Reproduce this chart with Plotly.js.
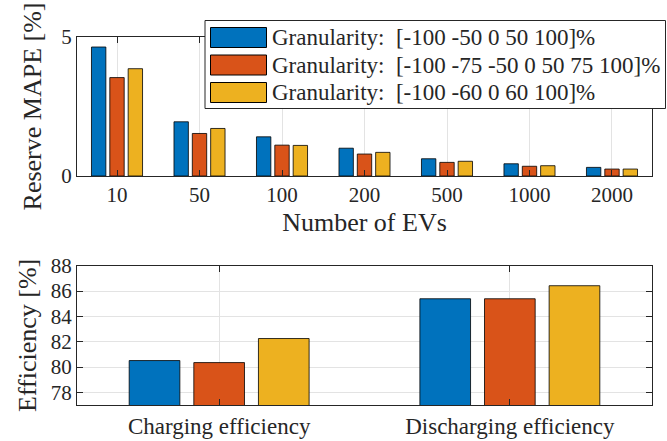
<!DOCTYPE html>
<html>
<head>
<meta charset="utf-8">
<script src="https://cdn.plot.ly/plotly-3.0.1.min.js"></script>
<style>html,body{margin:0;padding:0;background:#fff;}#chart{width:667px;height:441px;}</style>
</head>
<body>
<div id="chart"></div>
<script>
// ---- data ----
const evCounts = ["10", "50", "100", "200", "500", "1000", "2000"];
const seriesNames = [
  "Granularity:  [-100 -50 0 50 100]%",
  "Granularity:  [-100 -75 -50 0 50 75 100]%",
  "Granularity:  [-100 -60 0 60 100]%"
];
const mapeG1 = [4.64, 1.95, 1.41, 1.00, 0.62, 0.44, 0.31];
const mapeG2 = [3.54, 1.53, 1.11, 0.79, 0.49, 0.35, 0.25];
const mapeG3 = [3.86, 1.71, 1.10, 0.85, 0.53, 0.37, 0.25];
const effCategories = ["Charging efficiency", "Discharging efficiency"];
const effG1 = [80.51, 85.39];
const effG2 = [80.35, 85.39];
const effG3 = [82.25, 86.42];
const yTicksTop = [0, 5];
const yTicksBottom = [78, 80, 82, 84, 86, 88];

// ---- styling ----
const colors = ["#0072BD", "#D95319", "#EDB120"];
const FONT = "Liberation Serif, Times New Roman, serif";
const TXT = "#262626";

const W = 667, H = 441;
const L = 77, R = 15, T = 37, B = 36;
const plotW = W - L - R, plotH = H - T - B;
const px2x = p => (p - L) / plotW;
const py2y = p => (H - B - p) / plotH;

const topSeries = [mapeG1, mapeG2, mapeG3];
const botSeries = [effG1, effG2, effG3];

const traces = [];
topSeries.forEach((vals, i) => {
  traces.push({
    type: "bar", x: evCounts, y: vals, name: seriesNames[i],
    xaxis: "x", yaxis: "y",
    marker: {color: colors[i], line: {color: "#000", width: 0.8}},
    showlegend: false, hoverinfo: "x+y"
  });
});
botSeries.forEach((vals, i) => {
  traces.push({
    type: "bar", x: effCategories, y: vals, name: seriesNames[i],
    xaxis: "x2", yaxis: "y2",
    marker: {color: colors[i], line: {color: "#000", width: 0.8}},
    showlegend: false, hoverinfo: "x+y"
  });
});

const axisCommon = {
  showline: true, linecolor: TXT, linewidth: 1, mirror: "ticks",
  ticks: "inside", ticklen: 6, tickcolor: TXT, tickwidth: 1,
  tickfont: {family: FONT, size: 21, color: TXT},
  zeroline: false, layer: "above traces",
  gridcolor: "#e3e3e3", gridwidth: 1
};
const titleFont = {family: FONT, size: 26, color: TXT};

// custom legend (large swatches, like the reference)
const shapes = [];
const annotations = [];
shapes.push({
  type: "rect", xref: "paper", yref: "paper",
  x0: px2x(205), x1: px2x(665.5), y0: py2y(108.5), y1: py2y(20.5),
  line: {color: TXT, width: 1}, fillcolor: "#fff", layer: "above"
});
const rowTops = [27.5, 55, 82.5];
rowTops.forEach((t, i) => {
  shapes.push({
    type: "rect", xref: "paper", yref: "paper",
    x0: px2x(210.5), x1: px2x(266.5), y0: py2y(t + 20), y1: py2y(t),
    line: {color: "#000", width: 1}, fillcolor: colors[i], layer: "above"
  });
  annotations.push({
    xref: "paper", yref: "paper", x: px2x(270), y: py2y(t + 10),
    xanchor: "left", yanchor: "middle", showarrow: false,
    text: seriesNames[i], font: {family: FONT, size: 23, color: TXT}
  });
});

const layout = {
  width: W, height: H,
  margin: {l: L, r: R, t: T, b: B, pad: 0},
  paper_bgcolor: "#fff", plot_bgcolor: "#fff",
  barmode: "group", bargap: 0.333, bargroupgap: 0.216,
  showlegend: false,
  font: {family: FONT, color: TXT},
  xaxis: Object.assign({}, axisCommon, {
    anchor: "y", domain: [0, 1], type: "category",
    range: [-0.485, 6.485], showgrid: true,
    title: {text: "Number of EVs", font: titleFont, standoff: 6}
  }),
  yaxis: Object.assign({}, axisCommon, {
    anchor: "x", domain: [py2y(176), 1], range: [0, 5],
    tickmode: "array", tickvals: yTicksTop, ticktext: yTicksTop.map(String),
    showgrid: false,
    title: {text: "Reserve MAPE [%]", font: titleFont, standoff: 12}
  }),
  xaxis2: Object.assign({}, axisCommon, {
    anchor: "y2", domain: [0, 1], type: "category",
    range: [-0.489, 1.489], showgrid: true,
    tickfont: {family: FONT, size: 23, color: TXT}
  }),
  yaxis2: Object.assign({}, axisCommon, {
    anchor: "x2", domain: [0, py2y(265.7)], range: [77, 88],
    tickmode: "array", tickvals: yTicksBottom, ticktext: yTicksBottom.map(String),
    showgrid: true,
    title: {text: "Efficiency [%]", font: titleFont, standoff: 6}
  }),
  shapes: shapes,
  annotations: annotations
};

Plotly.newPlot("chart", traces, layout, {displayModeBar: false, staticPlot: true});
</script>
</body>
</html>
